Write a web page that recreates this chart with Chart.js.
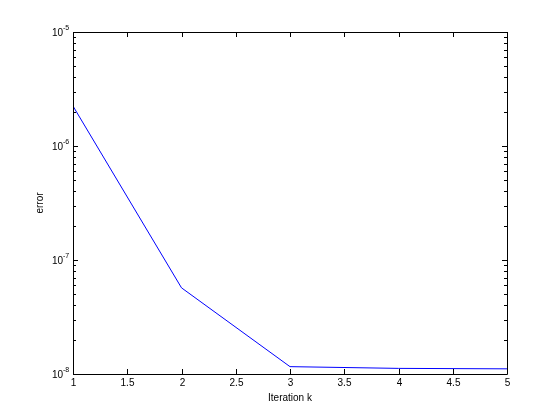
<!DOCTYPE html>
<html>
<head>
<meta charset="utf-8">
<script src="https://cdn.jsdelivr.net/npm/chart.js@4/dist/chart.umd.min.js"></script>
<style>
  html, body { margin: 0; padding: 0; background: #fff; }
  #wrap { width: 560px; height: 420px; }
</style>
</head>
<body>
<div id="wrap"><canvas id="err-chart" width="560" height="420"></canvas></div>
<script>
const iterations = [1, 2, 3, 4, 5]
const errors = [2.24e-6, 5.7e-8, 1.16e-8, 1.12e-8, 1.11e-8]
const xTicks = [1, 1.5, 2, 2.5, 3, 3.5, 4, 4.5, 5]
const yDecades = [-8, -7, -6, -5]

const fontFamily = "'Liberation Sans', Arial, sans-serif"

// matlab style frame: box, inward ticks, superscript labels
const matlabAxes = {
  id: 'matlabAxes',
  afterDraw(chart) {
    const ctx = chart.ctx
    const area = chart.chartArea
    const xs = chart.scales.x
    const ys = chart.scales.y
    const tick = 5
    ctx.save()
    ctx.strokeStyle = '#000'
    ctx.lineWidth = 1
    ctx.beginPath()
    ctx.rect(Math.round(area.left) + 0.5, Math.round(area.top) + 0.5,
      Math.round(area.right - area.left), Math.round(area.bottom - area.top))
    ctx.stroke()

    ctx.fillStyle = '#000'
    ctx.font = '10px ' + fontFamily
    ctx.textAlign = 'center'
    ctx.textBaseline = 'top'
    ctx.beginPath()
    xTicks.forEach((v) => {
      const px = Math.round(xs.getPixelForValue(v)) + 0.5
      ctx.moveTo(px, area.bottom)
      ctx.lineTo(px, area.bottom - tick)
      ctx.moveTo(px, area.top)
      ctx.lineTo(px, area.top + tick)
      ctx.fillText(String(v), px, area.bottom + 4)
    })
    ctx.stroke()

    ctx.beginPath()
    yDecades.forEach((d, i) => {
      const py = Math.round(ys.getPixelForValue(Math.pow(10, d))) + 0.5
      ctx.moveTo(area.left, py)
      ctx.lineTo(area.left + tick, py)
      ctx.moveTo(area.right, py)
      ctx.lineTo(area.right - tick, py)
      ctx.textAlign = 'right'
      ctx.textBaseline = 'middle'
      ctx.font = '10px ' + fontFamily
      ctx.fillText('10', area.left - 10, py + 1)
      ctx.textAlign = 'left'
      ctx.font = '7px ' + fontFamily
      ctx.fillText(String(d), area.left - 10, py - 4)
      if (i < yDecades.length - 1) {
        for (let m = 2; m <= 9; m++) {
          const my = Math.round(ys.getPixelForValue(m * Math.pow(10, d))) + 0.5
          ctx.moveTo(area.left, my)
          ctx.lineTo(area.left + 3, my)
          ctx.moveTo(area.right, my)
          ctx.lineTo(area.right - 3, my)
        }
      }
    })
    ctx.stroke()

    ctx.font = '10px ' + fontFamily
    ctx.textAlign = 'center'
    ctx.textBaseline = 'middle'
    ctx.fillText('Iteration k', (area.left + area.right) / 2, 398)
    ctx.translate(40, (area.top + area.bottom) / 2)
    ctx.rotate(-Math.PI / 2)
    ctx.fillText('error', 0, 0)
    ctx.restore()
  }
}

const errChart = new Chart(document.getElementById('err-chart'), {
  type: 'line',
  data: {
    datasets: [{
      label: 'error',
      data: iterations.map((k, i) => ({ x: k, y: errors[i] })),
      borderColor: '#0000ff',
      borderWidth: 1,
      pointRadius: 0,
      tension: 0,
      fill: false
    }]
  },
  options: {
    responsive: false,
    animation: false,
    events: [],
    layout: {
      padding: { top: 32, right: 53, left: 0, bottom: 0 }
    },
    plugins: {
      legend: { display: false },
      tooltip: { enabled: false }
    },
    scales: {
      x: {
        type: 'linear',
        min: 1,
        max: 5,
        grid: { display: false, drawTicks: false },
        border: { display: false },
        ticks: { display: false },
        afterFit: (scale) => { scale.height = 46 }
      },
      y: {
        type: 'logarithmic',
        min: 1e-8,
        max: 1e-5,
        grid: { display: false, drawTicks: false },
        border: { display: false },
        ticks: { display: false },
        afterFit: (scale) => { scale.width = 73 }
      }
    }
  },
  plugins: [matlabAxes]
})
</script>
</body>
</html>
